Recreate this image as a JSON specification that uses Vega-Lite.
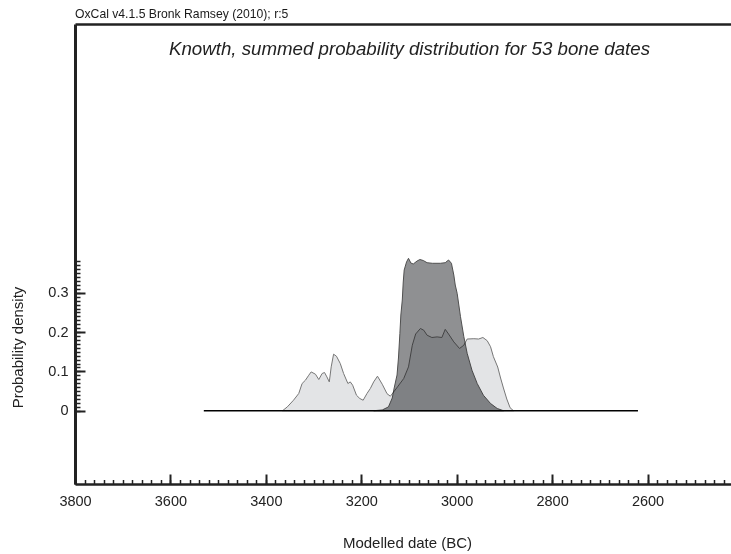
{
  "$schema": "https://vega.github.io/schema/vega-lite/v6.json",
  "width": 656,
  "height": 460,
  "autosize": {"type": "none"},
  "padding": {"left": 75, "top": 24, "right": 0, "bottom": 70},
  "background": "#ffffff",
  "title": {
    "text": "OxCal v4.1.5 Bronk Ramsey (2010); r:5",
    "anchor": "start",
    "frame": "group",
    "fontSize": 12.2,
    "fontWeight": "normal",
    "color": "#1a1a1a",
    "baseline": "alphabetic",
    "offset": 4,
    "dy": 10.5
  },
  "datasets": {
    "posterior": [
      {"year": 3174, "p": 0}, {"year": 3156, "p": 0.0018}, {"year": 3143, "p": 0.0097},
      {"year": 3135, "p": 0.0323}, {"year": 3131, "p": 0.0578}, {"year": 3125, "p": 0.0908},
      {"year": 3122, "p": 0.1341}, {"year": 3119, "p": 0.1969}, {"year": 3117, "p": 0.2435},
      {"year": 3114, "p": 0.2817}, {"year": 3112, "p": 0.3275}, {"year": 3110, "p": 0.358},
      {"year": 3105, "p": 0.3786}, {"year": 3101, "p": 0.3878}, {"year": 3096, "p": 0.3758},
      {"year": 3091, "p": 0.3733}, {"year": 3083, "p": 0.3809}, {"year": 3077, "p": 0.3847},
      {"year": 3070, "p": 0.3822}, {"year": 3062, "p": 0.3766}, {"year": 3051, "p": 0.3751},
      {"year": 3034, "p": 0.3751}, {"year": 3024, "p": 0.3766}, {"year": 3017, "p": 0.3835},
      {"year": 3011, "p": 0.3751}, {"year": 3006, "p": 0.3453}, {"year": 3003, "p": 0.3198},
      {"year": 2999, "p": 0.2987}, {"year": 2992, "p": 0.2392}, {"year": 2985, "p": 0.1883},
      {"year": 2978, "p": 0.146}, {"year": 2968, "p": 0.1031}, {"year": 2957, "p": 0.0692},
      {"year": 2944, "p": 0.0394}, {"year": 2929, "p": 0.0183}, {"year": 2915, "p": 0.0056},
      {"year": 2902, "p": 0}
    ],
    "summed": [
      {"year": 3365, "p": 0}, {"year": 3355, "p": 0.0097}, {"year": 3342, "p": 0.0267},
      {"year": 3331, "p": 0.0438}, {"year": 3324, "p": 0.0692}, {"year": 3317, "p": 0.0776},
      {"year": 3310, "p": 0.0903}, {"year": 3305, "p": 0.0987}, {"year": 3296, "p": 0.0929},
      {"year": 3289, "p": 0.0794}, {"year": 3282, "p": 0.0947}, {"year": 3277, "p": 0.0972},
      {"year": 3272, "p": 0.086}, {"year": 3267, "p": 0.0733}, {"year": 3263, "p": 0.1115},
      {"year": 3258, "p": 0.1438}, {"year": 3252, "p": 0.1387}, {"year": 3244, "p": 0.1201},
      {"year": 3237, "p": 0.0947}, {"year": 3228, "p": 0.0692}, {"year": 3223, "p": 0.0733},
      {"year": 3218, "p": 0.0649}, {"year": 3210, "p": 0.0394}, {"year": 3203, "p": 0.031},
      {"year": 3196, "p": 0.0267}, {"year": 3188, "p": 0.0438}, {"year": 3181, "p": 0.0565},
      {"year": 3174, "p": 0.0733}, {"year": 3166, "p": 0.0878}, {"year": 3156, "p": 0.0674},
      {"year": 3146, "p": 0.0433}, {"year": 3139, "p": 0.0369}, {"year": 3132, "p": 0.0478},
      {"year": 3124, "p": 0.0606}, {"year": 3111, "p": 0.0819}, {"year": 3101, "p": 0.1115},
      {"year": 3093, "p": 0.1667}, {"year": 3086, "p": 0.1952}, {"year": 3076, "p": 0.2092},
      {"year": 3069, "p": 0.2048}, {"year": 3062, "p": 0.1921}, {"year": 3052, "p": 0.1863},
      {"year": 3041, "p": 0.1878}, {"year": 3031, "p": 0.1863}, {"year": 3024, "p": 0.2071},
      {"year": 3017, "p": 0.1952}, {"year": 3006, "p": 0.1751}, {"year": 2994, "p": 0.1583},
      {"year": 2985, "p": 0.1667}, {"year": 2978, "p": 0.1824}, {"year": 2964, "p": 0.1832},
      {"year": 2954, "p": 0.1824}, {"year": 2945, "p": 0.1863}, {"year": 2936, "p": 0.1781},
      {"year": 2929, "p": 0.1628}, {"year": 2923, "p": 0.1374}, {"year": 2914, "p": 0.1112},
      {"year": 2908, "p": 0.0832}, {"year": 2902, "p": 0.0578}, {"year": 2895, "p": 0.0298},
      {"year": 2888, "p": 0.0076}, {"year": 2881, "p": 0}
    ],
    "span": [
      {"start": 3530, "end": 2620}
    ]
  },
  "layer": [
    {
      "data": {"name": "posterior"},
      "mark": {"type": "area", "fill": "#8f9092", "stroke": "#505050", "strokeWidth": 1, "interpolate": "linear"},
      "encoding": {
        "x": {
          "field": "year",
          "type": "quantitative",
          "scale": {"domain": [2425, 3800], "reverse": true, "nice": false, "zero": false},
          "axis": {
            "orient": "bottom",
            "values": [3800, 3600, 3400, 3200, 3000, 2800, 2600],
            "format": "d",
            "grid": false,
            "tickSize": -10,
            "tickWidth": 2,
            "tickColor": "#222222",
            "domainWidth": 2.5,
            "domainColor": "#222222",
            "labelPadding": 20,
            "labelFontSize": 14.5,
            "labelColor": "#222222",
            "labelFlush": false,
            "labelOverlap": false,
            "title": "Modelled date (BC)",
            "titleFontSize": 15,
            "titleFontWeight": "normal",
            "titleColor": "#222222",
            "titleX": 332,
            "titleY": 63,
            "titleAlign": "center",
            "titleBaseline": "alphabetic"
          }
        },
        "y": {
          "field": "p",
          "type": "quantitative",
          "scale": {"domain": [-0.1865, 0.984], "nice": false, "zero": false},
          "axis": {
            "orient": "left",
            "values": [0, 0.1, 0.2, 0.3],
            "format": "~g",
            "grid": false,
            "tickSize": -10,
            "tickWidth": 2,
            "tickColor": "#222222",
            "domainWidth": 3,
            "domainColor": "#222222",
            "labelPadding": 17,
            "labelFontSize": 14.5,
            "labelColor": "#222222",
            "labelFlush": false,
            "labelOverlap": false,
            "title": "Probability density",
            "titleFontSize": 15,
            "titleFontWeight": "normal",
            "titleColor": "#222222",
            "titleAngle": -90,
            "titleX": -53,
            "titleY": 323,
            "titleAlign": "center",
            "titleBaseline": "alphabetic"
          }
        }
      }
    },
    {
      "data": {"name": "summed"},
      "mark": {"type": "area", "fill": "#e3e4e6", "stroke": "#767676", "strokeWidth": 1, "blend": "multiply", "interpolate": "linear"},
      "encoding": {
        "x": {
          "field": "year",
          "type": "quantitative",
          "axis": {
            "orient": "bottom",
            "values": [3800, 3780, 3760, 3740, 3720, 3700, 3680, 3660, 3640, 3620, 3600, 3580, 3560, 3540, 3520, 3500, 3480, 3460, 3440, 3420, 3400, 3380, 3360, 3340, 3320, 3300, 3280, 3260, 3240, 3220, 3200, 3180, 3160, 3140, 3120, 3100, 3080, 3060, 3040, 3020, 3000, 2980, 2960, 2940, 2920, 2900, 2880, 2860, 2840, 2820, 2800, 2780, 2760, 2740, 2720, 2700, 2680, 2660, 2640, 2620, 2600, 2580, 2560, 2540, 2520, 2500, 2480, 2460, 2440],
            "grid": false,
            "domain": false,
            "labels": false,
            "tickSize": -4.5,
            "tickWidth": 1.5,
            "tickColor": "#222222",
            "title": null
          }
        },
        "y": {
          "field": "p",
          "type": "quantitative",
          "axis": {
            "orient": "left",
            "values": [0, 0.01, 0.02, 0.03, 0.04, 0.05, 0.06, 0.07, 0.08, 0.09, 0.1, 0.11, 0.12, 0.13, 0.14, 0.15, 0.16, 0.17, 0.18, 0.19, 0.2, 0.21, 0.22, 0.23, 0.24, 0.25, 0.26, 0.27, 0.28, 0.29, 0.3, 0.31, 0.32, 0.33, 0.34, 0.35, 0.36, 0.37, 0.38],
            "grid": false,
            "domain": false,
            "labels": false,
            "tickSize": -5,
            "tickWidth": 1.5,
            "tickColor": "#222222",
            "title": null
          }
        }
      }
    },
    {
      "data": {"name": "span"},
      "mark": {"type": "rule", "color": "#000000", "strokeWidth": 1.5},
      "encoding": {
        "x": {
          "field": "start",
          "type": "quantitative",
          "axis": {
            "orient": "top",
            "grid": false,
            "ticks": false,
            "labels": false,
            "domain": true,
            "domainWidth": 2.5,
            "domainColor": "#222222",
            "title": "Knowth, summed probability distribution for 53 bone dates",
            "titleFontSize": 18.7,
            "titleFontStyle": "italic",
            "titleFontWeight": "normal",
            "titleColor": "#222222",
            "titleAngle": 0,
            "titleX": 334,
            "titleY": 30,
            "titleAlign": "center",
            "titleBaseline": "alphabetic"
          }
        },
        "x2": {"field": "end"},
        "y": {"datum": 0, "type": "quantitative", "axis": null}
      }
    }
  ],
  "resolve": {"axis": {"x": "independent", "y": "independent"}},
  "config": {
    "font": "Liberation Sans",
    "view": {"stroke": null}
  }
}
